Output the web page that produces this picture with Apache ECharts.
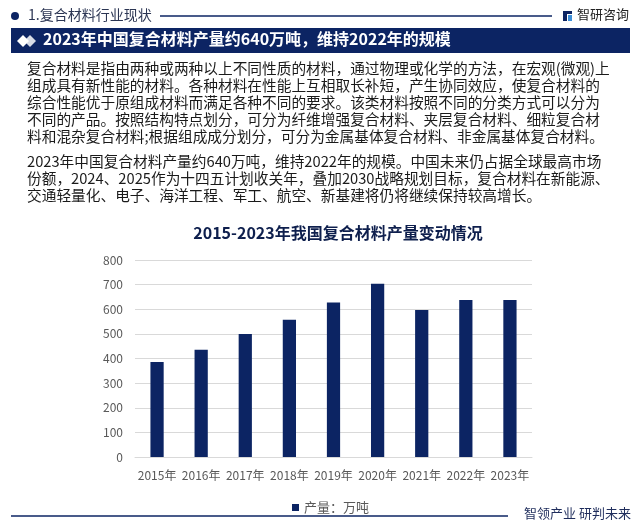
<!DOCTYPE html>
<html>
<head>
<meta charset="utf-8">
<script src="https://cdn.jsdelivr.net/npm/echarts@6/dist/echarts.min.js"></script>
<style>
html,body{margin:0;padding:0;background:#fff;}
#c{width:639px;height:529px;}
</style>
</head>
<body>
<div id="c"></div>
<script>
var categories = ['2015年','2016年','2017年','2018年','2019年','2020年','2021年','2022年','2023年'];
var production = [386, 436, 500, 557, 627, 704, 597, 638, 638];
var seriesName = '产量：万吨';
var yTicks = {min: 0, max: 800, interval: 100};

var sectionTitle = '1.复合材料行业现状';
var headline = '2023年中国复合材料产量约640万吨，维持2022年的规模';
var brand = '智研咨询';
var slogan = '智领产业 研判未来';
var chartTitle = '2015-2023年我国复合材料产量变动情况';
var para1 = [
  '复合材料是指由两种或两种以上不同性质的材料，通过物理或化学的方法，在宏观(微观)上',
  '组成具有新性能的材料。各种材料在性能上互相取长补短，产生协同效应，使复合材料的',
  '综合性能优于原组成材料而满足各种不同的要求。该类材料按照不同的分类方式可以分为',
  '不同的产品。按照结构特点划分，可分为纤维增强复合材料、夹层复合材料、细粒复合材',
  '料和混杂复合材料;根据组成成分划分，可分为金属基体复合材料、非金属基体复合材料。'
];
var para2 = [
  '2023年中国复合材料产量约640万吨，维持2022年的规模。中国未来仍占据全球最高市场',
  '份额，2024、2025作为十四五计划收关年，叠加2030战略规划目标，复合材料在新能源、',
  '交通轻量化、电子、海洋工程、军工、航空、新基建将仍将继续保持较高增长。'
];

var NAVY = '#0c2463';
var FONT = '"Noto Sans CJK SC", "Microsoft YaHei", sans-serif';

var graphics = [];
graphics.push({type:'circle', shape:{cx:15, cy:16, r:4}, style:{fill:NAVY}});
graphics.push({type:'text', left:28, top:8, style:{text:sectionTitle, fill:'#2b3553', font:'14px ' + FONT}});
graphics.push({type:'line', shape:{x1:160, y1:16, x2:552, y2:16}, style:{stroke:NAVY, lineWidth:1.3}});
graphics.push({type:'rect', shape:{x:563, y:11, width:4, height:10}, style:{fill:NAVY}});
graphics.push({type:'rect', shape:{x:563, y:11, width:9, height:3}, style:{fill:NAVY}});
graphics.push({type:'rect', shape:{x:568, y:15, width:4, height:6}, style:{fill:'#3d8fd8'}});
graphics.push({type:'text', left:577, top:8, style:{text:brand, fill:'#222', font:'13px ' + FONT}});
graphics.push({type:'rect', shape:{x:11, y:28, width:619, height:25}, style:{fill:NAVY}});
graphics.push({type:'polygon', shape:{points:[[30,35],[36,41],[30,47],[24,41]]}, style:{fill:'#d8dce6'}});
graphics.push({type:'polygon', shape:{points:[[23,35],[29,41],[23,47],[17,41]]}, style:{fill:'#ffffff'}});
graphics.push({type:'text', left:43, top:31, style:{text:headline, fill:'#fff', font:'bold 16px ' + FONT}});
para1.forEach(function(t, i){
  graphics.push({type:'text', left:27, top:61 + i*17, style:{text:t, fill:'#1a1a1a', font:'14.7px ' + FONT}});
});
para2.forEach(function(t, i){
  graphics.push({type:'text', left:27, top:154 + i*17, style:{text:t, fill:'#1a1a1a', font:'14.7px ' + FONT}});
});
graphics.push({type:'line', shape:{x1:11, y1:516, x2:508, y2:516}, style:{stroke:NAVY, lineWidth:1.3}});
graphics.push({type:'text', left:524, top:507, style:{text:slogan, fill:'#1f2d5c', font:'13px ' + FONT}});

var chart = echarts.init(document.getElementById('c'));
chart.setOption({
  animation: false,
  backgroundColor: '#fff',
  textStyle: {fontFamily: FONT},
  title: {
    text: chartTitle, left: 333, top: 220, textAlign: 'center',
    textStyle: {color: '#0e1f4d', fontSize: 16, fontWeight: 'bold', fontFamily: FONT}
  },
  legend: {
    data: [seriesName], left: 287, top: 496, icon: 'rect', itemWidth: 7, itemHeight: 7, itemGap: 4,
    textStyle: {color: '#595959', fontSize: 13, fontFamily: FONT}
  },
  grid: {left: 135, right: 107, top: 260, bottom: 72, containLabel: false},
  xAxis: {
    type: 'category', data: categories,
    axisLine: {lineStyle: {color: '#d9d9d9'}},
    axisTick: {show: false},
    axisLabel: {color: '#595959', fontSize: 12, margin: 12, interval: 0, fontFamily: FONT}
  },
  yAxis: {
    type: 'value', min: yTicks.min, max: yTicks.max, interval: yTicks.interval,
    axisLine: {show: false}, axisTick: {show: false},
    axisLabel: {color: '#595959', fontSize: 12, margin: 12, fontFamily: FONT},
    splitLine: {lineStyle: {color: '#d9d9d9'}}
  },
  series: [{
    name: seriesName, type: 'bar', data: production, barWidth: '30%',
    itemStyle: {color: NAVY}
  }],
  graphic: graphics
});
</script>
</body>
</html>
